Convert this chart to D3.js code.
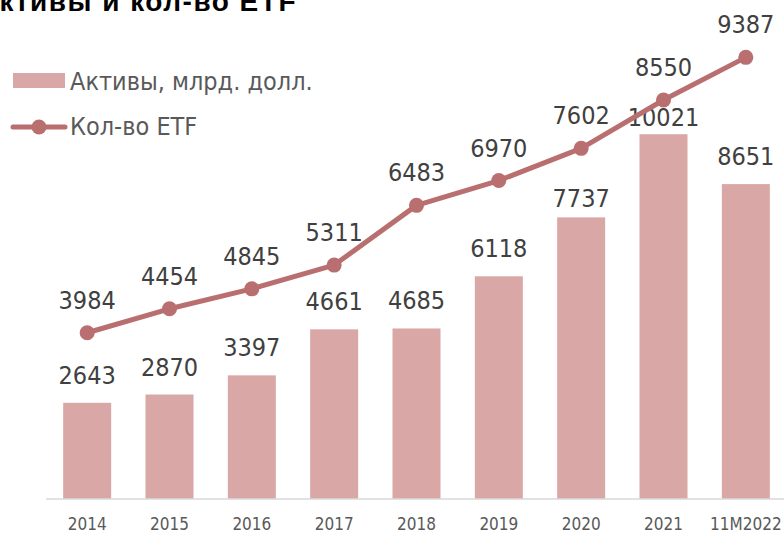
<!DOCTYPE html>
<html>
<head>
<meta charset="utf-8">
<script src="https://cdn.jsdelivr.net/npm/d3@7"></script>
<style>
  html, body { margin: 0; padding: 0; background: #fff; }
  svg { display: block; }
</style>
</head>
<body>
<svg id="chart" width="784" height="533"></svg>
<script>
// Data
const categories = ["2014", "2015", "2016", "2017", "2018", "2019", "2020", "2021", "11M2022"];
const assets = [2643, 2870, 3397, 4661, 4685, 6118, 7737, 10021, 8651];   // млрд. долл.
const etfCount = [3984, 4454, 4845, 5311, 6483, 6970, 7602, 8550, 9387];
const seriesNames = ["Активы, млрд. долл.", "Кол-во ETF"];
const title = "Активы и кол-во ETF";

const W = 784, H = 533;
const barColor = "#d9a7a6";
const lineColor = "#b96f6f";
const labelFont = "'DejaVu Sans Condensed', 'DejaVu Sans', sans-serif";

const svg = d3.select("#chart");

const x = d3.scaleBand().domain(categories).range([46, 787]).paddingInner(0.417).paddingOuter(0.2085);
const yBar = d3.scaleLinear().domain([0, 12000]).range([499, 62.2]);
const yLine = d3.scaleLinear().domain([0, 10000]).range([535.8, 26.1]);

// Title (runs off the top-left edge)
svg.append("text")
  .attr("x", 297).attr("y", 11)
  .attr("text-anchor", "end")
  .attr("font-family", "'Liberation Sans', Arial, sans-serif")
  .attr("font-weight", "bold")
  .attr("font-size", 28)
  .attr("letter-spacing", 1.5)
  .attr("fill", "#000")
  .text(title);

// Bars
svg.append("g").selectAll("rect")
  .data(categories)
  .join("rect")
  .attr("x", d => x(d))
  .attr("width", x.bandwidth())
  .attr("y", (d, i) => yBar(assets[i]))
  .attr("height", (d, i) => yBar(0) - yBar(assets[i]))
  .attr("fill", barColor);

// Category axis
const xAxis = svg.append("g")
  .attr("transform", `translate(0,${yBar(0)})`)
  .call(d3.axisBottom(x).tickSize(0).tickPadding(19));
xAxis.select(".domain").attr("stroke", "#d9d9d9").attr("stroke-width", 1.5)
  .attr("d", `M46,0H784`);
xAxis.selectAll("text")
  .attr("font-family", labelFont)
  .attr("font-size", 17)
  .attr("fill", "#595959");

// Bar value labels; a couple sit closer to their bar to clear the line
const barLabelGap = { "2020": 10, "2021": 8 };
svg.append("g").selectAll("text")
  .data(categories)
  .join("text")
  .attr("x", d => x(d) + x.bandwidth() / 2)
  .attr("y", (d, i) => yBar(assets[i]) - (barLabelGap[d] ?? 19))
  .attr("text-anchor", "middle")
  .attr("font-family", labelFont)
  .attr("font-size", 25)
  .attr("fill", "#404040")
  .text((d, i) => assets[i]);

// Line series
const line = d3.line()
  .x((d, i) => x(categories[i]) + x.bandwidth() / 2)
  .y(d => yLine(d));
svg.append("path")
  .datum(etfCount)
  .attr("d", line)
  .attr("fill", "none")
  .attr("stroke", lineColor)
  .attr("stroke-width", 5)
  .attr("stroke-linejoin", "round");

svg.append("g").selectAll("circle")
  .data(etfCount)
  .join("circle")
  .attr("cx", (d, i) => x(categories[i]) + x.bandwidth() / 2)
  .attr("cy", d => yLine(d))
  .attr("r", 7.5)
  .attr("fill", lineColor);

svg.append("g").selectAll("text")
  .data(etfCount)
  .join("text")
  .attr("x", (d, i) => x(categories[i]) + x.bandwidth() / 2)
  .attr("y", d => yLine(d) - 24)
  .attr("text-anchor", "middle")
  .attr("font-family", labelFont)
  .attr("font-size", 25)
  .attr("fill", "#404040")
  .text(d => d);

// Legend
const legend = svg.append("g");
legend.append("rect")
  .attr("x", 13).attr("y", 73).attr("width", 52).attr("height", 15)
  .attr("fill", barColor);
legend.append("text")
  .attr("x", 70).attr("y", 90)
  .attr("font-family", labelFont).attr("font-size", 25).attr("fill", "#595959")
  .text(seriesNames[0]);
legend.append("line")
  .attr("x1", 13).attr("x2", 65).attr("y1", 127).attr("y2", 127)
  .attr("stroke", lineColor).attr("stroke-width", 5).attr("stroke-linecap", "round");
legend.append("circle")
  .attr("cx", 39).attr("cy", 127).attr("r", 7.5).attr("fill", lineColor);
legend.append("text")
  .attr("x", 70).attr("y", 135)
  .attr("font-family", labelFont).attr("font-size", 25).attr("fill", "#595959")
  .text(seriesNames[1]);
</script>
</body>
</html>
